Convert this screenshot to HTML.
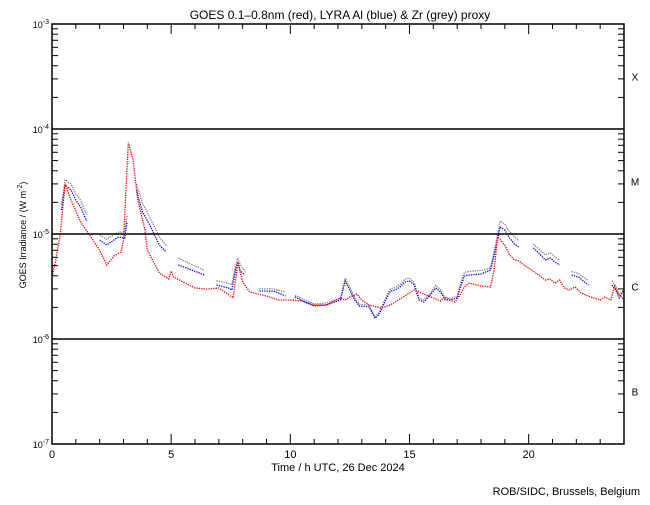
<!DOCTYPE html>
<html><head><meta charset="utf-8"><style>
body{margin:0;background:#fff;}
svg text{font-family:"Liberation Sans",sans-serif;fill:#000;}
</style></head><body>
<svg id="chart" width="650" height="500" viewBox="0 0 650 500">
<rect width="650" height="500" fill="#fff"/>
<g id="series"></g>
<g id="axes"></g>
</svg>
<script>
const redT=[0,0.15,0.35,0.55,0.8,1.2,1.6,2.0,2.3,2.6,2.9,3.0,3.2,3.4,3.6,3.9,4.0,4.5,4.9,5.0,5.1,5.5,6.0,6.5,7.0,7.3,7.6,7.8,8.0,8.3,9.0,9.5,10,10.5,11,11.5,12.1,12.3,12.5,12.8,13.0,13.3,13.8,14.2,14.4,14.8,15.2,15.4,15.9,16.3,16.5,16.7,16.9,17.1,17.3,17.5,18.0,18.4,18.55,18.7,19.0,19.2,19.4,19.6,19.8,20.0,20.3,20.7,20.9,21.1,21.3,21.5,21.7,21.95,22.2,22.6,23.0,23.2,23.45,23.6,23.75,24.0];
const redV=[3.9,5.5,10,30,21,13,9.6,7.0,5.07,6.17,6.74,8.8,74,51,21,11,7.04,4.25,3.73,4.44,3.9,3.49,3.06,2.99,3.06,2.74,2.46,5.29,3.49,2.80,2.57,2.35,2.35,2.30,2.11,2.11,2.46,2.35,2.51,2.68,2.35,2.11,1.97,2.11,2.25,2.57,2.93,2.80,2.51,2.30,2.51,2.35,2.25,2.57,3.13,3.41,3.19,3.13,4.54,9.4,7.86,6.31,5.65,5.53,5.07,4.74,4.25,3.65,3.73,3.41,3.65,3.06,2.93,3.13,2.74,2.51,2.35,2.51,2.35,3.19,2.74,2.35];
const blueT=[0.4,0.55,0.8,1.0,1.2,1.45,null,2.0,2.3,2.6,2.8,3.05,3.15,null,3.55,3.65,3.8,4.1,4.3,4.5,4.8,null,5.3,5.8,6.4,null,6.9,7.4,7.55,7.7,7.8,7.9,8.1,null,8.7,9.3,9.8,null,10.2,10.6,11.0,11.5,12.1,12.3,12.5,12.7,12.9,13.3,13.55,13.7,14.0,14.2,14.4,14.6,14.8,15.0,15.2,15.4,15.6,15.8,16.1,16.3,16.5,16.7,17.0,17.1,17.3,17.5,18.0,18.2,18.4,18.6,18.8,19.0,19.2,19.4,19.6,null,20.2,20.5,20.7,20.9,21.1,21.3,null,21.8,22.1,22.5,null,23.5,23.65,23.8,24.0];
const blueV=[16.9,29.3,26.2,21.1,18.1,13.3,null,8.77,7.86,8.77,9.36,9.16,13,null,26.2,21.1,16.2,12.2,9.78,7.86,6.74,null,5.07,4.6,4.07,null,3.27,3.06,2.93,4.54,5.41,4.44,4.07,null,2.86,2.86,2.57,null,2.51,2.25,2.06,2.11,2.35,3.57,2.93,2.35,2.06,2.02,1.58,1.69,2.35,2.86,2.93,3.13,3.49,3.57,3.27,2.35,2.25,2.51,3.06,2.80,2.35,2.35,2.46,2.93,3.98,4.07,4.16,4.35,4.54,7.04,11.7,10.9,9.16,8.03,7.5,null,7.36,6.31,5.65,5.91,5.41,5.07,null,4.07,3.89,3.27,null,3.27,2.93,2.46,2.93];
const greyT=[0.4,0.55,0.8,1.0,1.2,1.45,null,2.0,2.3,2.6,2.8,3.05,3.15,null,3.55,3.65,3.8,4.1,4.3,4.5,4.8,null,5.3,5.8,6.4,null,6.9,7.4,7.55,7.7,7.8,7.9,8.1,null,8.7,9.3,9.8,null,10.2,10.6,11.0,11.5,12.1,12.3,12.5,12.7,12.9,13.3,13.55,13.7,14.0,14.2,14.4,14.6,14.8,15.0,15.2,15.4,15.6,15.8,16.1,16.3,16.5,16.7,17.0,17.1,17.3,17.5,18.0,18.2,18.4,18.6,18.8,19.0,19.2,19.4,19.6,null,20.2,20.5,20.7,20.9,21.1,21.3,null,21.8,22.1,22.5,null,23.5,23.65,23.8,24.0];
const greyV=[19,33,30,24,21,15.2,null,9.8,8.9,9.9,10.4,10.4,15,null,30,25,19.5,14.5,11.7,9.4,7.7,null,5.9,5.2,4.5,null,3.6,3.4,3.3,5.0,5.9,5.1,4.4,null,3.0,3.0,2.8,null,2.6,2.35,2.15,2.2,2.45,3.8,3.1,2.45,2.15,2.1,1.65,1.75,2.45,3.0,3.1,3.3,3.7,3.8,3.45,2.45,2.35,2.6,3.25,2.95,2.45,2.45,2.55,3.1,4.3,4.4,4.5,4.6,4.8,7.6,13.3,12.4,10.5,9.4,8.6,null,8.0,7.0,6.3,6.6,6.1,5.6,null,4.4,4.2,3.6,null,3.6,3.2,2.6,3.0];
const xTicks=[0,5,10,15,20];
const yExps=[-3,-4,-5,-6,-7];
const classLabels=['X','M','C','B'];

const X0=52,X1=624,YT=24,YB=444;
const sx=t=>X0+(X1-X0)*t/24;
const sy=v=>YT+(-3-Math.log10(v))*(YB-YT)/4;
const NS='http://www.w3.org/2000/svg';
function mk(tag,attrs,parent){const e=document.createElementNS(NS,tag);for(const k in attrs)e.setAttribute(k,attrs[k]);parent.appendChild(e);return e;}
const S=document.getElementById('series'),A=document.getElementById('axes');

function drawSeries(T,V,color,name){
  let d='',pen=false;
  for(let i=0;i<T.length;i++){
    if(T[i]===null){pen=false;continue;}
    const v=V[i]*1e-6;
    d+=(pen?'L':'M')+sx(T[i]).toFixed(1)+' '+sy(v).toFixed(1)+' ';pen=true;
  }
  const p=mk('path',{d:d,fill:'none',stroke:color,'stroke-width':'1.3','stroke-dasharray':'1.3 1.1'},S);
  
  
}
drawSeries(greyT,greyV,'#808080','zr-proxy-grey-series');
drawSeries(blueT,blueV,'#0000ff','lyra-al-blue-series');
drawSeries(redT,redV,'#ff0000','goes-red-series');

const fr=mk('rect',{x:X0,y:YT,width:X1-X0,height:YB-YT,fill:'none',stroke:'#000','stroke-width':'1.5'},A);


[-4,-5,-6].forEach(e=>{
  const l=mk('line',{x1:X0,x2:X1,y1:sy(Math.pow(10,e)),y2:sy(Math.pow(10,e)),stroke:'#000','stroke-width':'1.5'},A);
  
  
});
yExps.forEach(e=>{
  const y=sy(Math.pow(10,e));
  const t=mk('text',{x:X0-3,y:y+4,'font-size':'9','text-anchor':'end'},A);
  
  
  t.innerHTML='10<tspan dy="-4" font-size="7">'+e+'</tspan>';
  if(e>-7){for(let m=2;m<=9;m++){const yy=sy(m*Math.pow(10,e-1));
    mk('line',{x1:X0,x2:X0+6,y1:yy,y2:yy,stroke:'#000'},A);
    mk('line',{x1:X1,x2:X1-6,y1:yy,y2:yy,stroke:'#000'},A);}}
});
for(let h=0;h<=24;h++){
  const x=sx(h),L=(h%5===0)?10:5;
  mk('line',{x1:x,x2:x,y1:YB,y2:YB-L,stroke:'#000'},A);
  mk('line',{x1:x,x2:x,y1:YT,y2:YT+L,stroke:'#000'},A);
}
xTicks.forEach(h=>{
  const t=mk('text',{x:sx(h),y:458,'font-size':'11','text-anchor':'middle'},A);
  
  
  t.textContent=h;
});
classLabels.forEach((c,i)=>{
  const t=mk('text',{x:635,y:sy(Math.pow(10,-3.5-i))+4,'font-size':'10','text-anchor':'middle'},A);
  
  
  t.textContent=c;
});
</script>
<div style="position:absolute;left:0;top:0;width:650px;height:500px;pointer-events:none;">
<svg width="650" height="500">
<text x="340" y="19" font-size="12" text-anchor="middle">GOES 0.1–0.8nm (red), LYRA Al (blue) &amp; Zr (grey) proxy</text>
<text x="338" y="471" font-size="11" text-anchor="middle">Time / h UTC, 26 Dec 2024</text>
<text transform="translate(26,235) rotate(-90)" font-size="9" text-anchor="middle">GOES Irradiance / (W m<tspan dy="-4" font-size="7">-2</tspan><tspan dy="4">)</tspan></text>
<text x="640" y="495" font-size="11" text-anchor="end">ROB/SIDC, Brussels, Belgium</text>
</svg></div>
</body></html>
